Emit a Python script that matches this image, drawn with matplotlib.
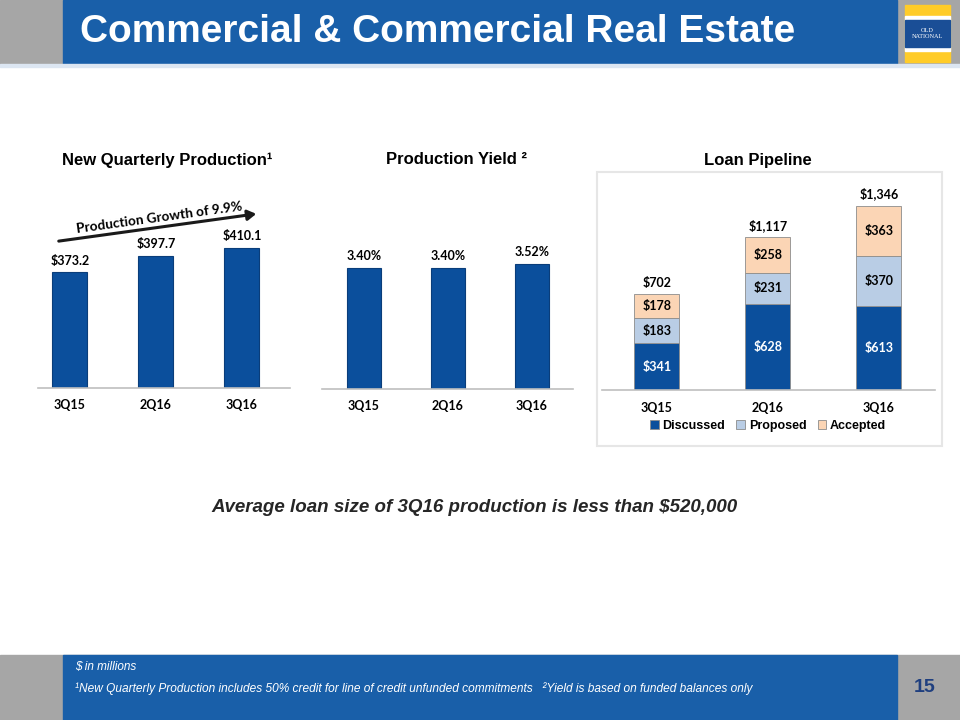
import matplotlib
matplotlib.use('Agg')
import matplotlib.pyplot as plt
from matplotlib.patches import Rectangle, Patch, FancyArrowPatch

# Data
quarters = ['3Q15', '2Q16', '3Q16']
production = [373.2, 397.7, 410.1]
production_labels = ['$373.2', '$397.7', '$410.1']
yields = [3.40, 3.40, 3.52]
yield_labels = ['3.40%', '3.40%', '3.52%']
discussed = [341, 628, 613]
proposed = [183, 231, 370]
accepted = [178, 258, 363]
pipeline_totals = [702, 1117, 1346]

W, H = 960, 720
BAR_BLUE = '#0B4F9C'
HEAD_BLUE = '#195FA9'
GRAY = '#A6A6A6'
LIGHT_BLUE = '#B9CDE5'
PEACH = '#FBD5B5'

ARIAL = ['Liberation Sans', 'DejaVu Sans']
CAL = ['Lato', 'DejaVu Sans']


def fx(x):
    return x / W


def fy(y):
    return 1 - y / H


def box(fig, x0, y0, x1, y1, **kw):
    fig.patches.append(Rectangle((fx(x0), fy(y1)), (x1 - x0) / W, (y1 - y0) / H,
                                 transform=fig.transFigure, **kw))


def add_ax(fig, left, right, top, bottom):
    ax = fig.add_axes([fx(left), fy(bottom), (right - left) / W, (bottom - top) / H])
    for s in ['top', 'right', 'left']:
        ax.spines[s].set_visible(False)
    ax.spines['bottom'].set_color('#BFBFBF')
    ax.spines['bottom'].set_linewidth(1.2)
    ax.set_yticks([])
    ax.tick_params(axis='x', length=0, pad=8)
    ax.set_facecolor('none')
    ax.set_zorder(3)
    return ax


fig = plt.figure(figsize=(9.6, 7.2), dpi=100)

# header / footer bands
box(fig, 0, 0, 960, 64, color=GRAY, zorder=0)
box(fig, 63, 0, 897, 64, color=HEAD_BLUE, zorder=1)
box(fig, 0, 64, 960, 67, color='#DCE6F2', zorder=1)
box(fig, 0, 655, 960, 720, color=GRAY, zorder=0)
box(fig, 63, 655, 897, 720, color=HEAD_BLUE, zorder=1)

# logo
box(fig, 905, 5, 950, 62, color='#FFCC29', zorder=2)
box(fig, 905, 16, 950, 51, color='white', zorder=3)
box(fig, 905, 20, 950, 47, color='#1A4E96', zorder=4)
fig.text(fx(927.5), fy(33.5), 'OLD\nNATIONAL', color='white', fontsize=4.5,
         family=['Liberation Serif', 'DejaVu Serif'], ha='center', va='center',
         linespacing=1.0, zorder=5)

fig.text(fx(80), fy(32), 'Commercial & Commercial Real Estate', color='white',
         fontsize=28, fontweight='bold', family=ARIAL, ha='left', va='center', zorder=5)

# footer texts
fig.text(fx(75), fy(667), '$ in millions', color='white', fontsize=8.5,
         style='italic', family=ARIAL, ha='left', va='center', zorder=5)
fig.text(fx(75), fy(689),
         '\u00b9New Quarterly Production includes 50% credit for line of credit unfunded commitments'
         '   \u00b2Yield is based on funded balances only',
         color='white', fontsize=8.6, style='italic', family=ARIAL, ha='left', va='center', zorder=5)
fig.text(fx(925), fy(688), '15', color='#1F3F7F', fontsize=14, fontweight='bold',
         family=ARIAL, ha='center', va='center', zorder=5)

# panel titles
fig.text(fx(167), fy(160), 'New Quarterly Production\u00b9', fontsize=12, fontweight='bold',
         family=ARIAL, ha='center', va='center')
fig.text(fx(457), fy(160), 'Production Yield \u00b2', fontsize=12, fontweight='bold',
         family=ARIAL, ha='center', va='center')
fig.text(fx(758), fy(160), 'Loan Pipeline', fontsize=12, fontweight='bold',
         family=ARIAL, ha='center', va='center')

# chart 1: production
ax1 = add_ax(fig, 38, 290, 170, 388)
x = list(range(len(quarters)))
bars = ax1.bar(x, production, width=0.41, color=BAR_BLUE, edgecolor='#0A3D7A', linewidth=0.8)
ax1.set_ylim(200, 526)
ax1.set_xlim(-0.37, 2.56)
ax1.set_xticks(x)
ax1.set_xticklabels(quarters, fontsize=9, fontweight='bold', family=CAL)
for b, lab in zip(bars, production_labels):
    ax1.annotate(lab, (b.get_x() + b.get_width() / 2, b.get_height()), xytext=(0, 4),
                 textcoords='offset points', ha='center', va='bottom', fontsize=9,
                 fontweight='bold', family=CAL)

# growth arrow
fig.patches.append(FancyArrowPatch(
    (fx(56), fy(241.5)), (fx(259), fy(213.5)), transform=fig.transFigure,
    arrowstyle='-|>,head_length=5,head_width=3', color='#1A1A1A', lw=2.2, zorder=5))
fig.text(fx(159), fy(217.5), 'Production Growth of 9.9%', rotation=7.8, fontsize=9.8,
         fontweight='bold', family=CAL, ha='center', va='center', rotation_mode='anchor')

# chart 2: yield
ax2 = add_ax(fig, 322, 573, 170, 389)
bars = ax2.bar(x, yields, width=0.40, color=BAR_BLUE, edgecolor='#0A3D7A', linewidth=0.8)
ax2.set_ylim(0, 6.15)
ax2.set_xlim(-0.5, 2.49)
ax2.set_xticks(x)
ax2.set_xticklabels(quarters, fontsize=9, fontweight='bold', family=CAL)
for b, lab in zip(bars, yield_labels):
    ax2.annotate(lab, (b.get_x() + b.get_width() / 2, b.get_height()), xytext=(0, 4),
                 textcoords='offset points', ha='center', va='bottom', fontsize=9,
                 fontweight='bold', family=CAL)

# chart 3: pipeline
box(fig, 597, 172, 942, 446, facecolor='white', edgecolor='#E6E6E6', lw=1.5, zorder=0)
ax3 = add_ax(fig, 602, 935, 180, 390)
ax3.tick_params(axis='x', pad=9)
bottom2 = [d + p for d, p in zip(discussed, proposed)]
b1 = ax3.bar(x, discussed, width=0.405, color=BAR_BLUE, edgecolor='#8C8C8C', linewidth=0.6)
b2 = ax3.bar(x, proposed, width=0.405, bottom=discussed, color=LIGHT_BLUE,
             edgecolor='#8C8C8C', linewidth=0.6)
b3 = ax3.bar(x, accepted, width=0.405, bottom=bottom2, color=PEACH,
             edgecolor='#8C8C8C', linewidth=0.6)
ax3.set_ylim(0, 1537)
ax3.set_xlim(-0.495, 2.505)
ax3.set_xticks(x)
ax3.set_xticklabels(quarters, fontsize=9, fontweight='bold', family=CAL)
for bars, vals, col in [(b1, discussed, 'white'), (b2, proposed, 'black'), (b3, accepted, 'black')]:
    for b, v in zip(bars, vals):
        ax3.text(b.get_x() + b.get_width() / 2, b.get_y() + b.get_height() / 2, f'${v:,}',
                 ha='center', va='center', fontsize=9, fontweight='bold', family=CAL, color=col)
for i, t in enumerate(pipeline_totals):
    ax3.annotate(f'${t:,}', (i, t), xytext=(0, 4), textcoords='offset points',
                 ha='center', va='bottom', fontsize=9, fontweight='bold', family=CAL)

handles = [Patch(facecolor=c, edgecolor='#8C8C8C', linewidth=0.6)
           for c in [BAR_BLUE, LIGHT_BLUE, PEACH]]
leg = fig.legend(handles, ['Discussed', 'Proposed', 'Accepted'], loc='center',
                 bbox_to_anchor=(fx(768), fy(426)), ncol=3, frameon=False,
                 prop={'family': ARIAL, 'weight': 'bold', 'size': 9},
                 handlelength=0.7, handleheight=0.7, handletextpad=0.3, columnspacing=0.9)
leg.set_zorder(4)

fig.text(fx(474), fy(507), 'Average loan size of 3Q16 production is less than $520,000',
         fontsize=13.5, fontweight='bold', style='italic', family=ARIAL, color='#262626',
         ha='center', va='center')

fig.savefig('out.png', dpi=100)
